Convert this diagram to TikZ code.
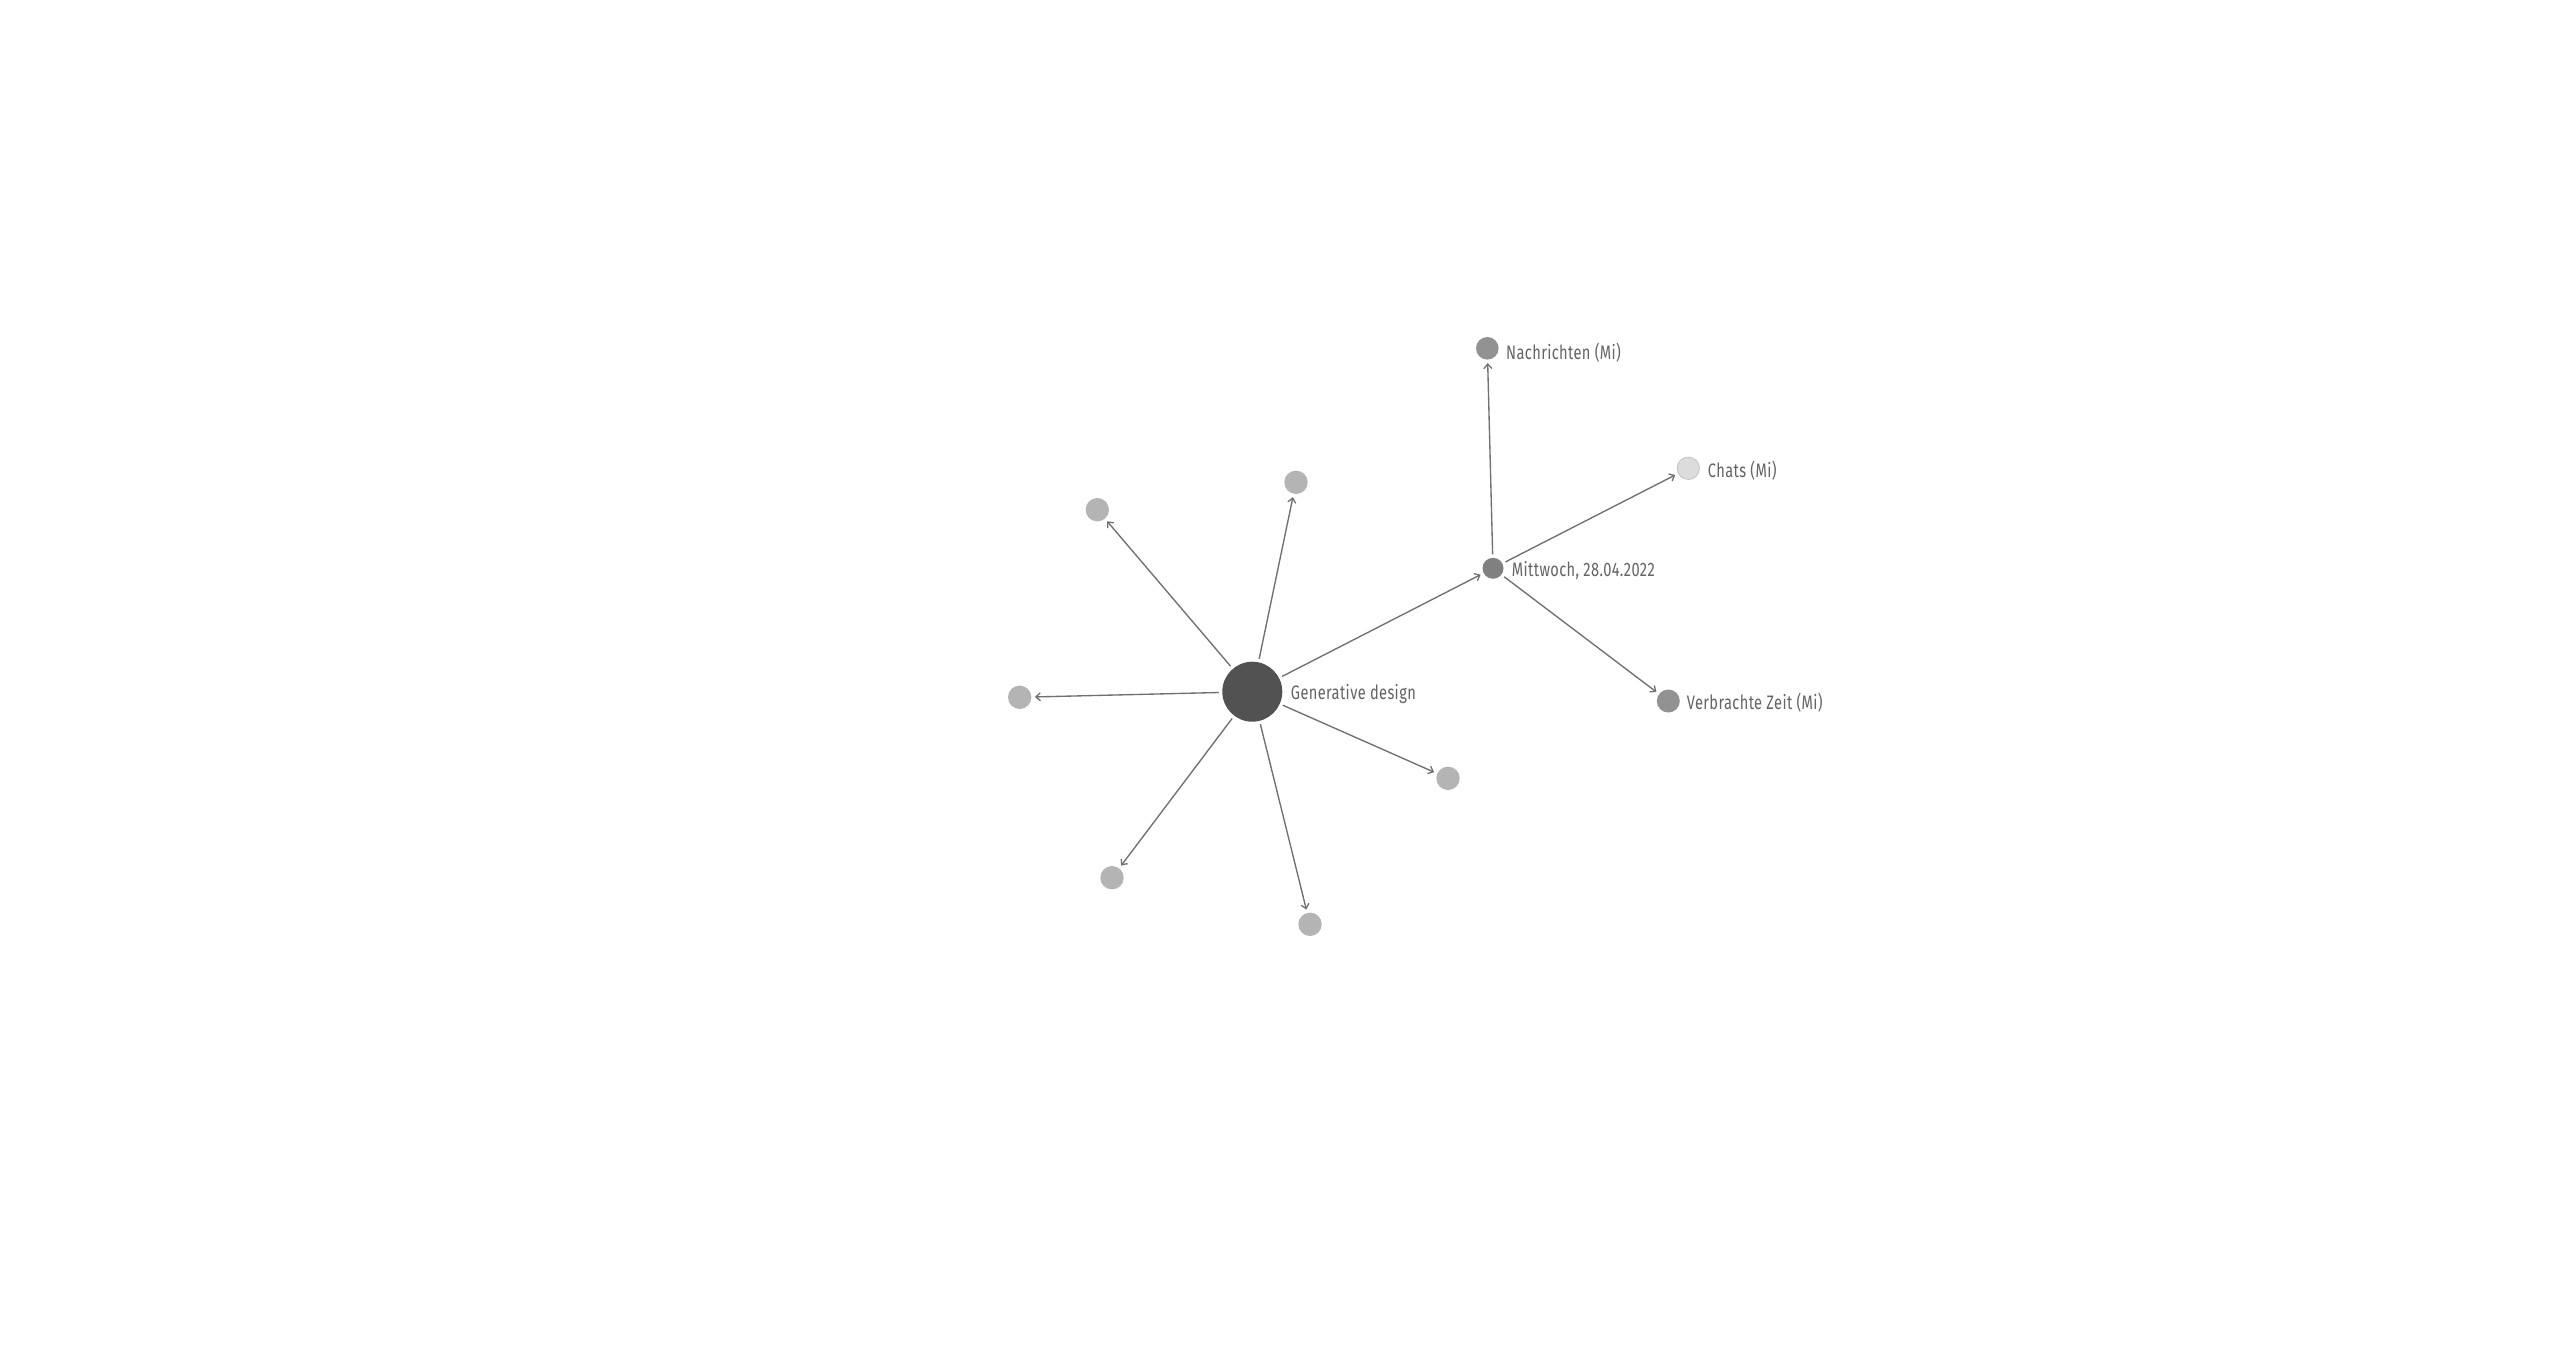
\documentclass[tikz,border=0pt]{standalone}
\usepackage{fontspec}
\setmainfont{Fira Sans}[FakeStretch=0.75,LetterSpace=2]
\usetikzlibrary{arrows.meta}
\definecolor{edgec}{HTML}{707070}
\definecolor{textc}{HTML}{646464}
\definecolor{hubc}{HTML}{525252}
\definecolor{leafc}{HTML}{B4B4B4}
\definecolor{midc}{HTML}{808080}
\definecolor{subc}{HTML}{929292}
\definecolor{chatc}{HTML}{DCDCDC}
\definecolor{chatb}{HTML}{C4C4C4}
\begin{document}
\begin{tikzpicture}[x=1pt,y=-1pt,
  dot/.style={circle,inner sep=0pt,outer sep=3.5pt,draw=none},
  leaf/.style={dot,fill=leafc,minimum size=23.4pt},
  lbl/.style={inner sep=0pt,anchor=base west,text=textc,font=\fontsize{19.5}{19.5}\selectfont},
  link/.style={draw=edgec,line width=1.35pt,-{Straight Barb[length=4.5pt,width=8pt,line width=1.3pt]}}]
\fill[white] (0,0) rectangle (2560,1351);
\useasboundingbox (0,0) rectangle (2560,1351);
% nodes
\node[dot,fill=hubc,minimum size=60pt] (c) at (1252.3,691.7) {};
\node[leaf] (l1) at (1019.7,697.3) {};
\node[leaf] (l2) at (1097.3,509.7) {};
\node[leaf] (l3) at (1296,482.3) {};
\node[leaf] (l4) at (1448,778.3) {};
\node[leaf] (l5) at (1112,877.7) {};
\node[leaf] (l6) at (1310,924.3) {};
\node[dot,fill=midc,minimum size=21pt] (m) at (1493,568.3) {};
\node[dot,fill=subc,minimum size=22.6pt] (n) at (1487.3,348.3) {};
\node[dot,fill=chatc,draw=chatb,line width=0.8pt,minimum size=22.4pt] (ch) at (1688.3,468.3) {};
\node[dot,fill=subc,minimum size=23pt] (v) at (1668.3,701) {};
% labels
\node[lbl] (tc) at (1290.7,699.3) {Generative design};
\node[lbl] (tm) at (1511.7,576.7) {Mittwoch, 28.04.2022};
\node[lbl] (tn) at (1506,359) {Nachrichten (Mi)};
\node[lbl] (tch) at (1707.7,477.7) {Chats (Mi)};
\node[lbl] (tv) at (1686.7,709.7) {Verbrachte Zeit (Mi)};
% edges
\draw[link] (c) -- (l1);
\draw[link] (c) -- (l2);
\draw[link] (c) -- (l3);
\draw[link] (c) -- (l4);
\draw[link] (c) -- (l5);
\draw[link] (c) -- (l6);
\draw[link] (c) -- (m);
\draw[link] (m) -- (n);
\draw[link] (m) -- (ch);
\draw[link] (m) -- (v);
\end{tikzpicture}
\end{document}
